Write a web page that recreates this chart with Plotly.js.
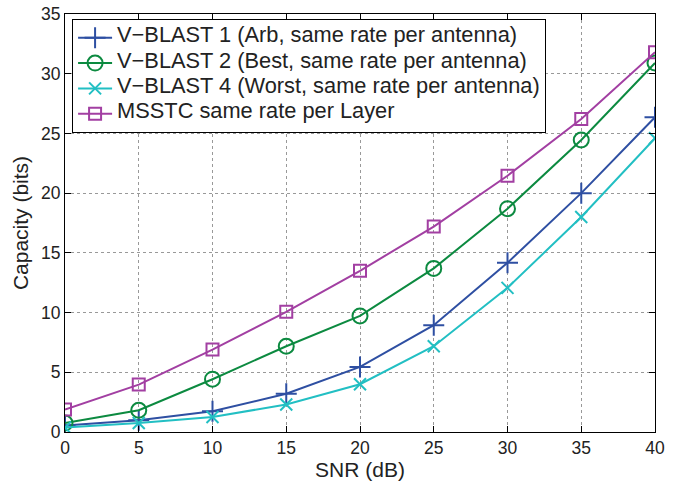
<!DOCTYPE html>
<html><head><meta charset="utf-8">
<script src="https://cdn.plot.ly/plotly-3.0.1.min.js"></script>
<style>
html,body{margin:0;padding:0;background:#fff}#chart{width:675px;height:481px}
.legendtext{font-size:21.8px !important;transform:translateY(-2px);}
</style>
</head><body><div id="chart"></div>
<script>
const snr = [0, 5, 10, 15, 20, 25, 30, 35, 40];
const vblast1 = [0.55, 0.98, 1.73, 3.2, 5.45, 8.94, 14.17, 20.0, 26.35];
const vblast2 = [0.75, 1.82, 4.42, 7.18, 9.72, 13.7, 18.7, 24.45, 30.9];
const vblast4 = [0.37, 0.75, 1.26, 2.3, 4.0, 7.18, 12.07, 18.0, 24.6];
const msstc = [1.88, 3.97, 6.9, 10.06, 13.5, 17.2, 21.46, 26.2, 31.8];
const names = ["V\u2212BLAST 1 (Arb, same rate per antenna)", "V\u2212BLAST 2 (Best, same rate per antenna)", "V\u2212BLAST 4 (Worst, same rate per antenna)", "MSSTC same rate per Layer"];
const xTicks = [0, 5, 10, 15, 20, 25, 30, 35, 40];
const yTicks = [0, 5, 10, 15, 20, 25, 30, 35];

const series = [vblast1, vblast2, vblast4, msstc];
const colors = ["#2e4fa2", "#0c8a40", "#22bfc3", "#a23fa2"];
const symbols = ["cross-thin-open", "circle-open", "x-thin-open", "square-open"];
const sizes = [15, 15, 12, 12];
const traces = series.map((s, i) => ({
  x: snr, y: s, name: names[i], type: 'scatter', mode: 'lines+markers',
  line: {color: colors[i], width: 2},
  marker: {symbol: symbols[i], size: sizes[i], color: colors[i], line: {color: colors[i], width: 2}}
}));

const axisCommon = {
  showline: true, linecolor: '#000', linewidth: 1, mirror: 'ticks',
  ticks: 'inside', ticklen: 6, tickcolor: '#000',
  showgrid: true, gridcolor: '#999', griddash: 'dot', gridwidth: 1,
  zeroline: false, tickfont: {family: 'Liberation Sans, Arial', size: 17.5, color: '#222'}
};
const layout = {
  width: 675, height: 481,
  margin: {l: 65, r: 20, t: 14, b: 49},
  paper_bgcolor: '#fff', plot_bgcolor: '#fff',
  font: {family: 'Liberation Sans, Arial', color: '#222'},
  xaxis: Object.assign({}, axisCommon, {range: [0, 40], tickvals: xTicks, ticktext: xTicks.map(String),
    title: {text: 'SNR (dB)', font: {size: 21, color: '#222'}, standoff: 3}}),
  yaxis: Object.assign({}, axisCommon, {range: [0, 35], tickvals: yTicks, ticktext: yTicks.map(String),
    title: {text: 'Capacity (bits)', font: {size: 21, color: '#222'}, standoff: 6}}),
  legend: {x: 0.012, y: 0.988, xanchor: 'left', yanchor: 'top', bgcolor: '#fff',
    bordercolor: '#000', borderwidth: 1, font: {size: 17.2, color: '#222'}, itemwidth: 34, tracegroupgap: 0},
  showlegend: true
};
Plotly.newPlot('chart', traces, layout, {displayModeBar: false, staticPlot: true});
</script></body></html>
